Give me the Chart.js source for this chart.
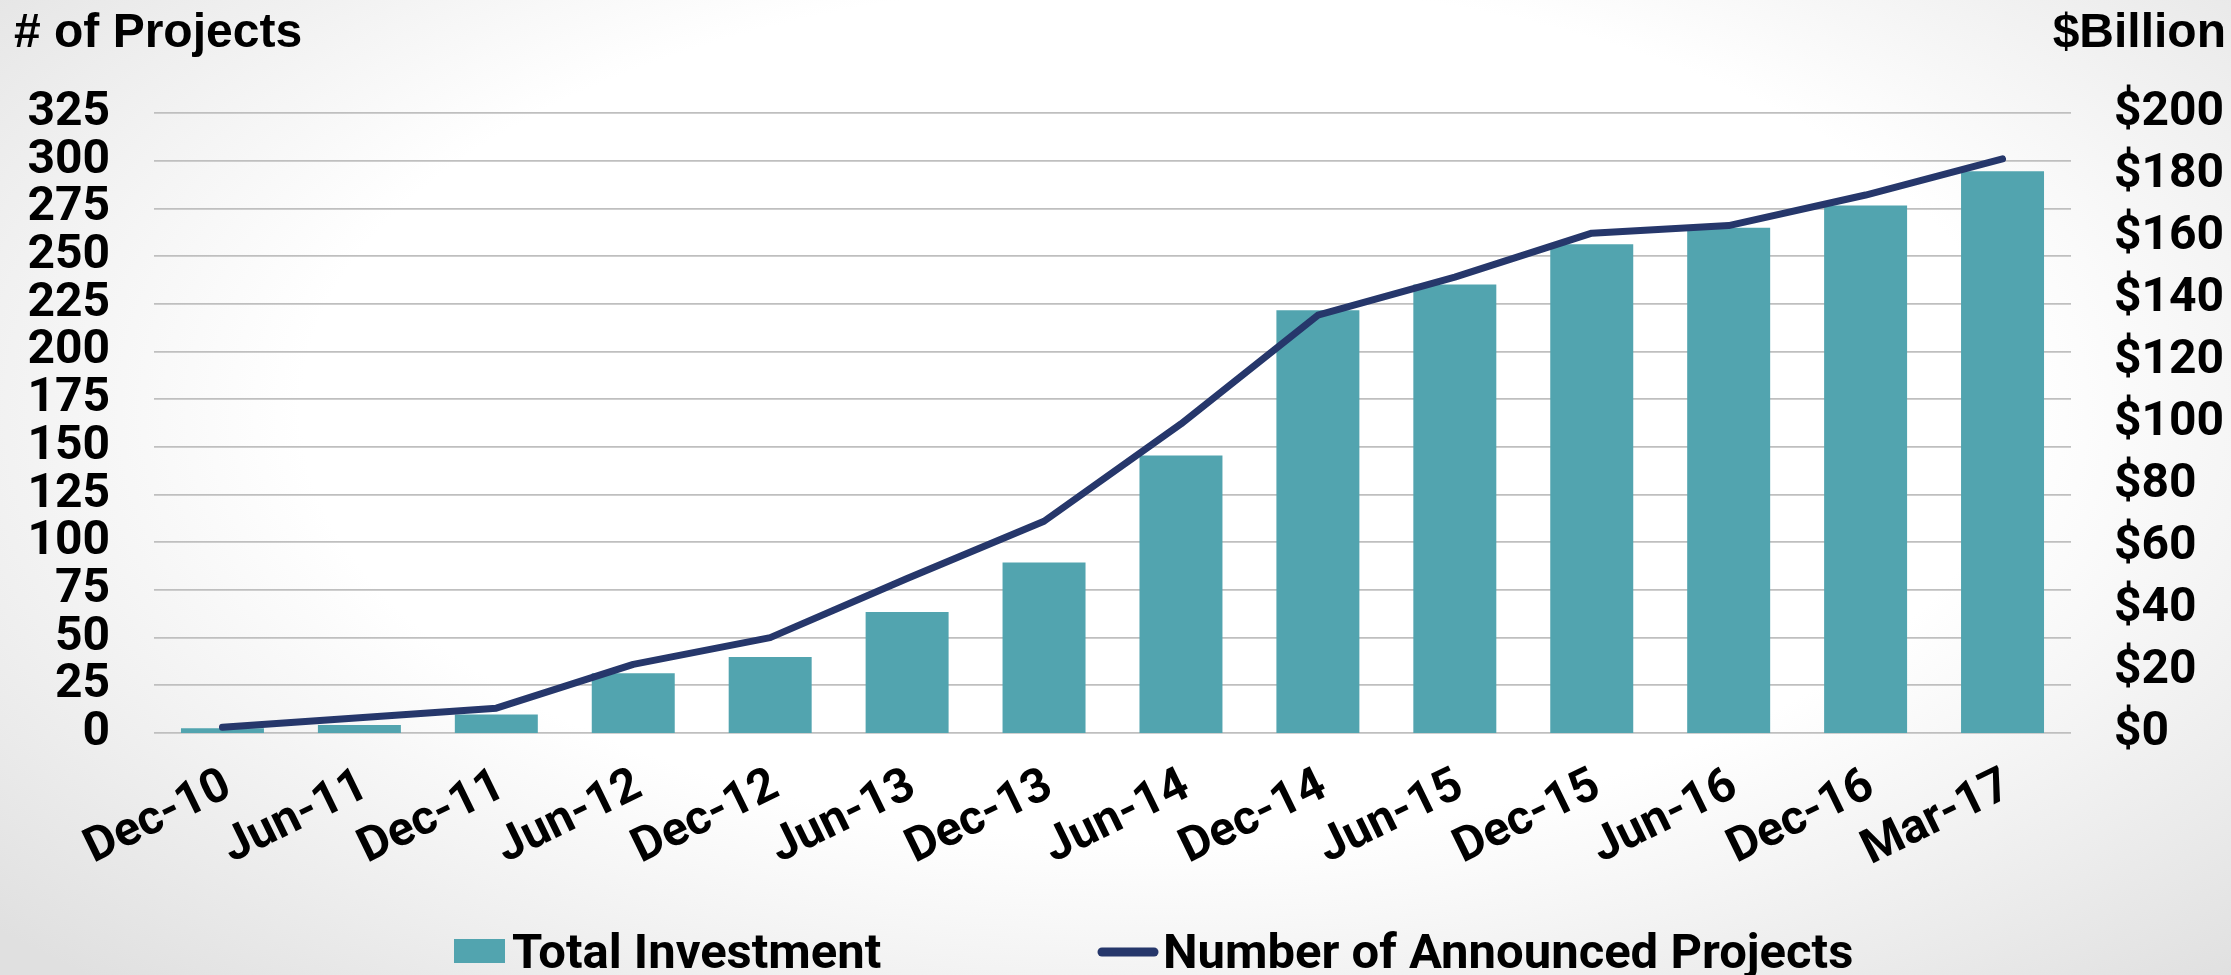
<!DOCTYPE html>
<html>
<head>
<meta charset="utf-8">
<title>Announced Projects and Total Investment</title>
<script src="https://cdn.jsdelivr.net/npm/chart.js@4/dist/chart.umd.min.js"></script>
<style>
  html, body { margin: 0; padding: 0; }
  body {
    width: 2231px; height: 975px; overflow: hidden;
    background: radial-gradient(ellipse 70% 80% at 52% 42%, #ffffff 55%, #e0e0e0 100%);
  }
  canvas { display: block; }
</style>
</head>
<body>
<canvas id="chart" width="2231" height="975"></canvas>
<script>
// Half-year snapshots
const periods = ['Dec-10', 'Jun-11', 'Dec-11', 'Jun-12', 'Dec-12', 'Jun-13', 'Dec-13',
                 'Jun-14', 'Dec-14', 'Jun-15', 'Dec-15', 'Jun-16', 'Dec-16', 'Mar-17'];
// Total investment, $ billion (right axis)
const totalInvestment = [1.5, 2.6, 6, 19.3, 24.5, 39, 55, 89.5, 136.4, 144.7, 157.7, 163, 170.2, 181.2];
// Number of announced projects (left axis)
const announcedProjects = [3, 8, 13, 36, 50, 81, 111, 162, 219, 239, 262, 266, 282, 301];
// Axis ranges and tick steps: [min, max, step]
const projectTicks = [0, 325, 25];
const billionTicks = [0, 200, 20];
const axisTitles = ['# of Projects', '$Billion'];
const seriesNames = ['Total Investment', 'Number of Announced Projects'];

const TEAL = '#52a4af';
const NAVY = '#26376b';
const FAMILY = "Roboto, 'Open Sans', sans-serif";
const TICK_FONT = { family: FAMILY, size: 48, weight: 'bold' };

// Axis titles above the tick columns and the legend row under the chart
const overlay = {
  id: 'overlay',
  afterDraw(chart) {
    const ctx = chart.ctx;
    ctx.save();
    ctx.fillStyle = '#000';
    ctx.textBaseline = 'alphabetic';
    ctx.font = "bold 48px 'Liberation Sans', Arial, sans-serif";
    ctx.textAlign = 'left';
    ctx.fillText(axisTitles[0], 14, 47);
    ctx.textAlign = 'right';
    ctx.fillText(axisTitles[1], chart.width - 5, 47);

    // legend
    const base = 968;
    ctx.font = 'bold 49px ' + FAMILY;
    ctx.textAlign = 'left';
    const barDs = chart.data.datasets.find(d => d.type === 'bar');
    const lineDs = chart.data.datasets.find(d => d.type === 'line');
    let x = 454;
    ctx.fillStyle = barDs.backgroundColor;
    ctx.fillRect(x, 939, 51, 24);
    ctx.fillStyle = '#000';
    ctx.fillText(barDs.label, x + 58, base);
    x = 1102;
    ctx.strokeStyle = lineDs.borderColor;
    ctx.lineWidth = 9;
    ctx.lineCap = 'round';
    ctx.beginPath();
    ctx.moveTo(x, 952);
    ctx.lineTo(x + 52, 952);
    ctx.stroke();
    ctx.fillText(lineDs.label, x + 61, base);
    ctx.restore();
  }
};

new Chart(document.getElementById('chart'), {
  type: 'bar',
  data: {
    labels: periods,
    datasets: [
      {
        type: 'line',
        label: seriesNames[1],
        data: announcedProjects,
        yAxisID: 'y',
        borderColor: NAVY,
        backgroundColor: NAVY,
        borderWidth: 7,
        borderCapStyle: 'round',
        borderJoinStyle: 'round',
        pointRadius: 0,
        tension: 0,
        order: 0
      },
      {
        type: 'bar',
        label: seriesNames[0],
        data: totalInvestment,
        yAxisID: 'y1',
        backgroundColor: TEAL,
        borderWidth: 0,
        barPercentage: 0.606,
        categoryPercentage: 1,
        order: 1
      }
    ]
  },
  options: {
    responsive: false,
    animation: false,
    devicePixelRatio: 1,
    layout: { padding: { top: 113, left: 0, right: 0, bottom: 0 } },
    plugins: {
      legend: { display: false },
      tooltip: { enabled: false },
      title: { display: false }
    },
    scales: {
      x: {
        offset: true,
        grid: { display: false, drawTicks: false },
        border: { display: false },
        ticks: {
          color: '#000',
          font: TICK_FONT,
          minRotation: 26,
          maxRotation: 26,
          autoSkip: false,
          padding: 25,
          labelOffset: 6
        },
        afterFit(scale) { scale.height = 242; }
      },
      y: {
        position: 'left',
        min: projectTicks[0],
        max: projectTicks[1],
        grid: { color: '#bfbfbf', lineWidth: 1.7, drawTicks: false },
        border: { display: false },
        ticks: {
          stepSize: projectTicks[2],
          autoSkip: false,
          color: '#000',
          font: TICK_FONT,
          padding: 44
        },
        afterFit(scale) { scale.width = 154; }
      },
      y1: {
        position: 'right',
        min: billionTicks[0],
        max: billionTicks[1],
        grid: { display: false, drawTicks: false },
        border: { display: false },
        ticks: {
          stepSize: billionTicks[2],
          autoSkip: false,
          color: '#000',
          font: TICK_FONT,
          padding: 43,
          callback: v => '$' + v
        },
        afterFit(scale) { scale.width = 160; }
      }
    }
  },
  plugins: [overlay]
});
</script>
</body>
</html>
